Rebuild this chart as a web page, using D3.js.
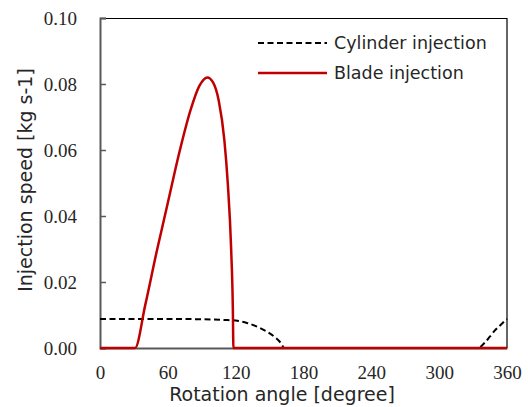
<!DOCTYPE html>
<html>
<head>
<meta charset="utf-8">
<script src="https://cdn.jsdelivr.net/npm/d3@7"></script>
<style>
  body { margin: 0; background: #fff; }
  svg text { font-family: "Liberation Serif", serif; fill: #262626; }
  svg text.label { font-family: "DejaVu Sans", sans-serif; }
</style>
</head>
<body>
<svg id="chart" width="528" height="407"></svg>
<script>
// data
var cylAngle = [0, 30, 60, 90, 110, 120, 130, 140, 148, 155, 160, 163, 200, 250, 300, 334, 340, 345, 350, 355, 360];
var cylValue = [0.0088, 0.0088, 0.0088, 0.0087, 0.0085, 0.0083, 0.0076, 0.0063, 0.0049, 0.0032, 0.0015, 0, 0, 0, 0, 0, 0.0015, 0.0035, 0.0056, 0.0072, 0.0088];

var bladeAngle = [0, 31, 40, 50, 60, 70, 80, 88, 95, 100, 105, 110, 113, 116, 117.5, 118, 200, 300, 360];
var bladeValue = [0, 0, 0.013, 0.029, 0.044, 0.059, 0.072, 0.0795, 0.082, 0.0805, 0.075, 0.063, 0.05, 0.03, 0.012, 0, 0, 0, 0];

var xTicks = [0, 60, 120, 180, 240, 300, 360];
var yTicks = [0, 0.02, 0.04, 0.06, 0.08, 0.10];

var seriesNames = ["Cylinder injection", "Blade injection"];

var svg = d3.select("#chart");
var margin = {left: 100, right: 21, top: 18, bottom: 59};
var width = 528 - margin.left - margin.right,
    height = 407 - margin.top - margin.bottom;

var x = d3.scaleLinear().domain([0, 360]).range([0, width]);
var y = d3.scaleLinear().domain([0, 0.1]).range([height, 0]);

var g = svg.append("g").attr("transform", "translate(" + margin.left + "," + margin.top + ")");

// frame top and right
g.append("path")
  .attr("d", "M0,0.5H" + width + "V" + height)
  .attr("fill", "none").attr("stroke", "#000").attr("stroke-width", 1.2);

// y axis, ticks pointing in
var yAxis = g.append("g")
  .call(d3.axisLeft(y).tickValues(yTicks).tickSize(-6).tickPadding(23)
    .tickFormat(d3.format(".2f")));
yAxis.attr("font-family", null);
yAxis.select(".domain").attr("stroke", "#595959").attr("stroke-width", 2);
yAxis.selectAll(".tick line").attr("stroke", "#595959").attr("stroke-width", 1.5);
yAxis.selectAll("text").style("font-size", "19px").attr("fill", "#262626");

// x axis, no ticks
var xAxis = g.append("g").attr("transform", "translate(0," + height + ")")
  .call(d3.axisBottom(x).tickValues(xTicks).tickSize(0).tickPadding(18));
xAxis.attr("font-family", null);
xAxis.select(".domain").attr("stroke", "#595959").attr("stroke-width", 2);
xAxis.selectAll("text").style("font-size", "19px").attr("fill", "#262626");

var line = d3.line()
  .x(function(d) { return x(d[0]); })
  .y(function(d) { return y(d[1]); })
  .curve(d3.curveMonotoneX);

var cylData = d3.zip(cylAngle, cylValue);
var bladeData = d3.zip(bladeAngle, bladeValue);

g.append("path").datum(cylData)
  .attr("d", line)
  .attr("fill", "none").attr("stroke", "#000")
  .attr("stroke-width", 2).attr("stroke-dasharray", "6,3.5");

g.append("path").datum(bladeData)
  .attr("d", line)
  .attr("fill", "none").attr("stroke", "#C00000")
  .attr("stroke-width", 2.5).attr("stroke-linejoin", "round");

// legend
var leg = g.append("g").attr("transform", "translate(158,25)");
leg.append("line").attr("x1", 0).attr("x2", 69).attr("y1", 0).attr("y2", 0)
  .attr("stroke", "#000").attr("stroke-width", 2).attr("stroke-dasharray", "6,3.5");
leg.append("text").attr("class", "label").attr("x", 76).attr("y", 6)
  .style("font-size", "17.5px").text(seriesNames[0]);
leg.append("line").attr("x1", 0).attr("x2", 69).attr("y1", 30).attr("y2", 30)
  .attr("stroke", "#C00000").attr("stroke-width", 2.5);
leg.append("text").attr("class", "label").attr("x", 76).attr("y", 36)
  .style("font-size", "17.5px").text(seriesNames[1]);

// axis titles
svg.append("text").attr("class", "label")
  .attr("x", 282).attr("y", 401)
  .attr("text-anchor", "middle").style("font-size", "19px")
  .text("Rotation angle [degree]");

svg.append("text").attr("class", "label")
  .attr("transform", "translate(32,180) rotate(-90)")
  .attr("text-anchor", "middle").style("font-size", "19px")
  .text("Injection speed [kg s-1]");
</script>
</body>
</html>
